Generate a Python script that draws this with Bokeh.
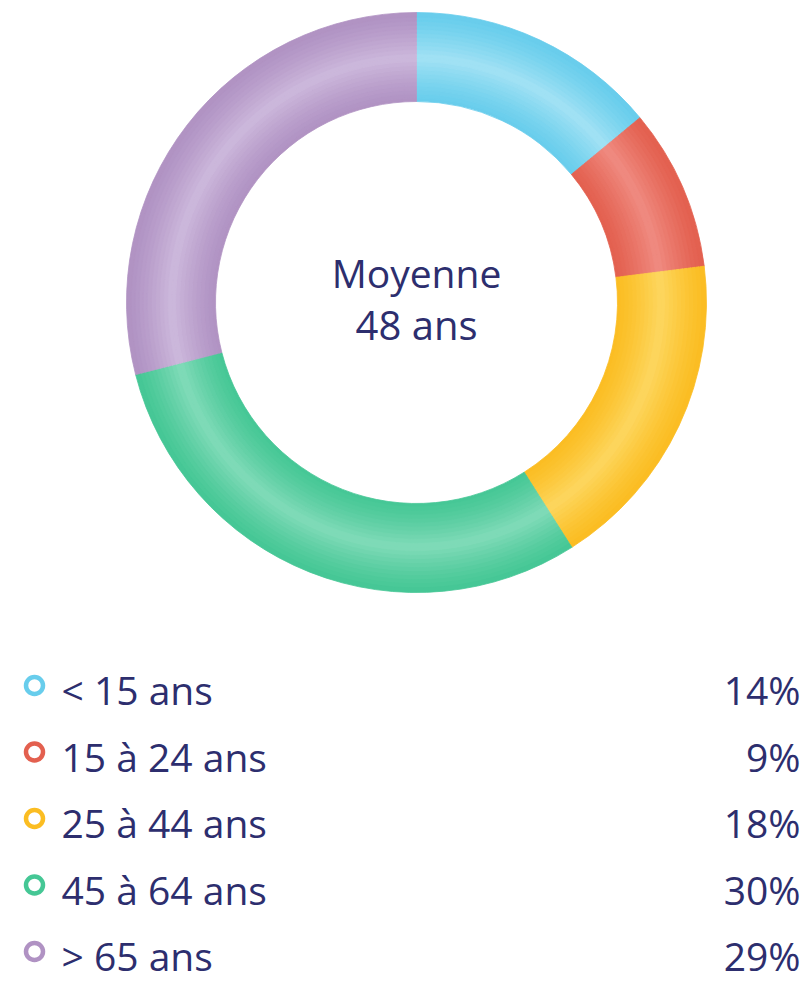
import numpy as np
from bokeh.plotting import figure
from bokeh.models import Range1d, ColumnDataSource
from bokeh.core.properties import value
from bokeh.embed import file_html
from bokeh.resources import INLINE

# ---- data ----
labels = ["< 15 ans", "15 à 24 ans", "25 à 44 ans", "45 à 64 ans", "> 65 ans"]
shares = [14, 9, 18, 30, 29]
pct_labels = ["14%", "9%", "18%", "30%", "29%"]
edge_colors = ["#68cdec", "#e3604f", "#fbbd22", "#45c795", "#b092c3"]
mid_colors = ["#a3e2f4", "#f08c82", "#fdd760", "#82dbb9", "#cdb9dc"]
center_title = "Moyenne"
center_value = "48 ans"

W, H = 808, 984
TXT = "#2d2e6e"
FONT = "Open Sans"

p = figure(width=W, height=H, output_backend="svg", toolbar_location=None,
           x_range=Range1d(0, W), y_range=Range1d(0, H), min_border=0)
p.axis.visible = False
p.grid.visible = False
p.outline_line_color = None
p.background_fill_color = "white"
p.border_fill_color = "white"

def Y(screen_y):
    return H - screen_y

def X(screen_x):
    return screen_x

cx, cy = X(416), Y(302)
r_in, r_out = 201, 290

vals = np.array(shares, dtype=float)
frac = vals / vals.sum()
cum = np.concatenate([[0], np.cumsum(frac)])
starts = np.pi / 2 - 2 * np.pi * cum[:-1]
ends = np.pi / 2 - 2 * np.pi * cum[1:]

def hex2rgb(h):
    h = h.lstrip("#")
    return np.array([int(h[i:i + 2], 16) for i in (0, 2, 4)], dtype=float)

def rgb2hex(c):
    c = np.clip(np.round(c), 0, 255).astype(int)
    return "#%02x%02x%02x" % tuple(c)

N = 22
edges = np.linspace(r_in, r_out, N + 1)
for k in range(N):
    t = (k + 0.5) / N
    w = 1 - abs(t - 0.5) * 2  # 1 at middle of ring
    w = w ** 1.3
    cols = [rgb2hex(hex2rgb(e) * (1 - w) + hex2rgb(m) * w) for e, m in zip(edge_colors, mid_colors)]
    src = ColumnDataSource(dict(x=[cx] * len(shares), y=[cy] * len(shares),
                                s=list(starts), e=list(ends), c=cols))
    ir = edges[k] - (0.6 if k > 0 else 0)
    orr = edges[k + 1] + (0.6 if k < N - 1 else 0)
    p.annular_wedge(x="x", y="y", inner_radius=ir, outer_radius=orr,
                    start_angle="s", end_angle="e", direction="clock",
                    fill_color="c", line_color="c", line_width=0.8, source=src)

# center text
p.text(x=[cx], y=[Y(272)], text=[center_title], text_font=value(FONT),
       text_font_size="39px", text_color=TXT, text_align="center",
       text_baseline="middle")
p.text(x=[cx], y=[Y(324)], text=[center_value], text_font=value(FONT),
       text_font_size="40px", text_color=TXT, text_align="center",
       text_baseline="middle")

# legend
mid0, step = 689, 66.5
n = len(labels)
mids = [Y(mid0 + i * step) for i in range(n)]
marker_y = [Y(mid0 - 4 + i * step) for i in range(n)]
p.scatter(x=[X(34)] * n, y=marker_y, marker="circle", size=17,
          fill_color="white", line_color=edge_colors, line_width=4.5)
p.text(x=[X(61)] * n, y=mids, text=labels, text_font=value(FONT),
       text_font_size="39px", text_color=TXT, text_align="left",
       text_baseline="middle")
p.text(x=[X(800)] * n, y=mids, text=pct_labels, text_font=value(FONT),
       text_font_size="39px", text_color=TXT, text_align="right",
       text_baseline="middle")

open("out.html", "w").write(file_html(p, INLINE))
